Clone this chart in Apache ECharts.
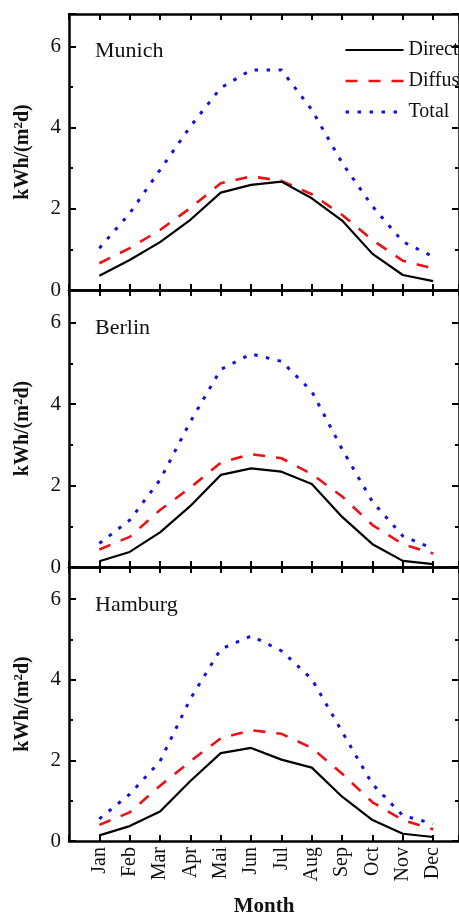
<!DOCTYPE html>
<html><head><meta charset="utf-8">
<script src="https://cdn.jsdelivr.net/npm/echarts@6/dist/echarts.min.js"></script>
<style>html,body{margin:0;padding:0;background:#fff}#c{width:459px;height:918px}</style>
</head><body><div id="c"></div>
<script>
const months = ['Jan','Feb','Mar','Apr','Mai','Jun','Jul','Aug','Sep','Oct','Nov','Dec'];
const cities = ['Munich','Berlin','Hamburg'];
const seriesNames = ['Direct','Diffuse','Total'];
const yTicks = [0, 2, 4, 6];

const munichDirect  = [0.35, 0.74, 1.18, 1.73, 2.40, 2.59, 2.67, 2.26, 1.71, 0.89, 0.37, 0.22];
const munichDiffuse = [0.66, 1.03, 1.48, 2.02, 2.63, 2.80, 2.69, 2.36, 1.85, 1.23, 0.72, 0.53];
const munichTotal   = [1.03, 1.89, 2.96, 4.03, 4.98, 5.42, 5.42, 4.44, 3.13, 2.06, 1.19, 0.82];

const berlinDirect  = [0.14, 0.37, 0.85, 1.50, 2.26, 2.42, 2.34, 2.04, 1.23, 0.56, 0.15, 0.07];
const berlinDiffuse = [0.43, 0.74, 1.40, 1.95, 2.56, 2.77, 2.67, 2.28, 1.73, 1.03, 0.56, 0.33];
const berlinTotal   = [0.58, 1.15, 2.14, 3.57, 4.85, 5.23, 5.05, 4.31, 2.89, 1.60, 0.76, 0.45];

const hamburgDirect  = [0.14, 0.37, 0.73, 1.49, 2.18, 2.31, 2.02, 1.82, 1.10, 0.52, 0.18, 0.10];
const hamburgDiffuse = [0.40, 0.71, 1.37, 1.98, 2.55, 2.75, 2.66, 2.31, 1.67, 0.96, 0.52, 0.29];
const hamburgTotal   = [0.55, 1.16, 1.98, 3.53, 4.76, 5.09, 4.72, 4.02, 2.71, 1.41, 0.63, 0.43];

const cityData = [
  [munichDirect, munichDiffuse, munichTotal],
  [berlinDirect, berlinDiffuse, berlinTotal],
  [hamburgDirect, hamburgDiffuse, hamburgTotal]
];

const FONT = 'Liberation Serif';
const tops = [14, 290, 567];
const heights = [276, 277, 277];
const colors = ['#000000', '#ee1111', '#1212e0'];
const lineStyles = [
  {color: colors[0], width: 2.2, type: 'solid'},
  {color: colors[1], width: 2.6, type: [12, 11]},
  {color: colors[2], width: 3, type: [3.5, 8.5]}
];

const grids = [], xAxes = [], yAxes = [], series = [], titles = [];
cities.forEach((city, k) => {
  grids.push({left: 69, width: 394.5, top: tops[k], height: heights[k]});
  const isLast = k === 2;
  xAxes.push({
    type: 'value', gridIndex: k, position: 'bottom', min: 0, max: 12.85, interval: 1,
    splitLine: {show: false},
    axisLine: {show: true, onZero: false, lineStyle: {color: '#000', width: 2.5}},
    axisTick: {show: true, inside: true, length: 6, lineStyle: {color: '#000', width: 2}},
    axisLabel: {
      show: isLast, rotate: 90, margin: 6, fontFamily: FONT, fontSize: 20, color: '#111',
      formatter: v => (Number.isInteger(v) && v >= 1 && v <= 12) ? months[v - 1] : ''
    },
    name: isLast ? 'Month' : '', nameLocation: 'middle', nameGap: 55,
    nameTextStyle: {fontFamily: FONT, fontSize: 21, fontWeight: 'bold', color: '#111'}
  });
  xAxes.push({
    type: 'value', gridIndex: k, position: 'top', min: 0, max: 12.85, interval: 1,
    splitLine: {show: false},
    axisLine: {show: true, onZero: false, lineStyle: {color: '#000', width: 2.5}},
    axisTick: {show: true, inside: true, length: 6, lineStyle: {color: '#000', width: 2}},
    axisLabel: {show: false}
  });
  yAxes.push({
    type: 'value', gridIndex: k, position: 'left', min: 0, max: 6.8, interval: 2,
    splitLine: {show: false},
    axisLine: {show: true, onZero: false, lineStyle: {color: '#000', width: 2.5}},
    axisTick: {show: true, inside: true, length: 7, lineStyle: {color: '#000', width: 2}},
    axisLabel: {margin: 8, fontFamily: FONT, fontSize: 21, color: '#111',
      formatter: v => yTicks.indexOf(v) >= 0 ? String(v) : ''},
    name: '{a|kWh/(m}{s|2}{a|d)}', nameLocation: 'middle', nameGap: 35,
    nameTextStyle: {
      rich: {
        a: {fontFamily: FONT, fontSize: 20, fontWeight: 'bold', color: '#111', lineHeight: 22},
        s: {fontFamily: FONT, fontSize: 13, fontWeight: 'bold', color: '#111', lineHeight: 13, verticalAlign: 'top'}
      }
    }
  });
  yAxes.push({
    type: 'value', gridIndex: k, position: 'left', min: 0, max: 6.8, interval: 1,
    splitLine: {show: false},
    axisLine: {show: false, onZero: false},
    axisTick: {show: true, inside: true, length: 4, lineStyle: {color: '#000', width: 2}},
    axisLabel: {show: false}
  });
  yAxes.push({
    type: 'value', gridIndex: k, position: 'right', min: 0, max: 6.8, interval: 2,
    splitLine: {show: false},
    axisLine: {show: true, onZero: false, lineStyle: {color: '#000', width: 2.5}},
    axisTick: {show: true, inside: true, length: 7, lineStyle: {color: '#000', width: 2}},
    axisLabel: {show: false}
  });
  yAxes.push({
    type: 'value', gridIndex: k, position: 'right', min: 0, max: 6.8, interval: 1,
    splitLine: {show: false},
    axisLine: {show: false, onZero: false},
    axisTick: {show: true, inside: true, length: 4, lineStyle: {color: '#000', width: 2}},
    axisLabel: {show: false}
  });

  cityData[k].forEach((vals, j) => {
    series.push({
      name: seriesNames[j], type: 'line', xAxisIndex: 2 * k, yAxisIndex: 4 * k,
      symbol: 'none', smooth: false, silent: true,
      itemStyle: {color: colors[j]},
      lineStyle: lineStyles[j],
      data: vals.map((v, i) => [i + 1, v]),
      z: 3 - j
    });
  });

  titles.push({
    text: city, left: 90, top: [35, 312, 589][k],
    textStyle: {fontFamily: FONT, fontSize: 22, fontWeight: 'normal', color: '#111'}
  });
});

const chart = echarts.init(document.getElementById('c'));
chart.setOption({
  animation: false,
  backgroundColor: '#fff',
  title: titles,
  legend: {
    data: seriesNames, orient: 'vertical', left: 339, top: 35,
    itemWidth: 58, itemHeight: 20, itemGap: 11, selectedMode: false,
    itemStyle: {opacity: 0, borderWidth: 0},
    lineStyle: {width: 'inherit'},
    textStyle: {fontFamily: FONT, fontSize: 20, color: '#111', lineHeight: 20}
  },
  grid: grids,
  xAxis: xAxes,
  yAxis: yAxes,
  series: series
});
</script></body></html>
